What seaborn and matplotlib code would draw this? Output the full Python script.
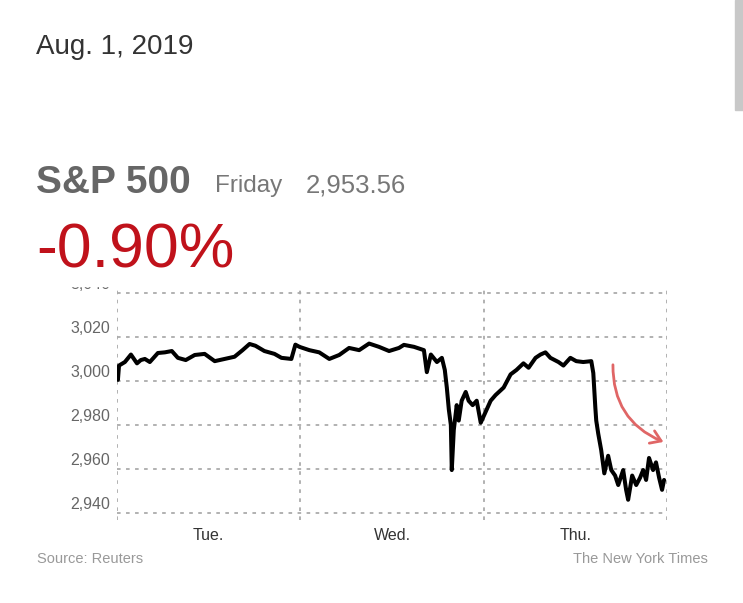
import matplotlib
matplotlib.use("Agg")
import matplotlib.pyplot as plt
import matplotlib.patches as mpatches
from matplotlib.transforms import ScaledTranslation
import seaborn as sns
import pandas as pd

# ── data: S&P 500 intraday, Tue–Thu (x in trading days since Tue open) ──
days = [
    0.000, 0.005, 0.011, 0.043, 0.076, 0.109, 0.130, 0.152, 0.179, 0.223,
    0.261, 0.299, 0.332, 0.375, 0.424, 0.478, 0.533, 0.587, 0.641, 0.685,
    0.723, 0.755, 0.804, 0.859, 0.897, 0.951, 0.973, 0.995,
    1.049, 1.103, 1.158, 1.212, 1.266, 1.321, 1.375, 1.429, 1.484, 1.538,
    1.565, 1.620, 1.674, 1.690, 1.712, 1.745, 1.772, 1.788, 1.799, 1.810,
    1.821, 1.826, 1.837, 1.853, 1.864, 1.880, 1.902, 1.918, 1.940, 1.962,
    1.984,
    2.011, 2.038, 2.065, 2.109, 2.147, 2.179, 2.217, 2.245, 2.283, 2.310,
    2.337, 2.364, 2.408, 2.435, 2.473, 2.505, 2.543, 2.587, 2.598, 2.609,
    2.614, 2.625, 2.641, 2.658, 2.679, 2.696, 2.717, 2.734, 2.761, 2.777,
    2.788, 2.810, 2.832, 2.853, 2.870, 2.886, 2.902, 2.924, 2.940, 2.957,
    2.973, 2.984,
]
index_values = [
    3002.0, 3000.5, 3007.0, 3008.6, 3012.0, 3008.0, 3009.5, 3010.0, 3008.6, 3012.7,
    3013.0, 3013.6, 3010.5, 3009.5, 3011.8, 3012.3, 3009.0, 3010.0, 3011.0, 3014.0,
    3016.8, 3016.0, 3013.6, 3012.3, 3010.5, 3010.0, 3016.5, 3015.5,
    3014.0, 3013.0, 3010.0, 3011.8, 3015.0, 3014.0, 3017.0, 3015.5, 3013.6, 3015.0,
    3016.4, 3015.5, 3014.0, 3004.0, 3012.0, 3008.6, 3010.5, 3005.0, 2997.0, 2987.0,
    2980.0, 2959.5, 2977.7, 2989.0, 2982.0, 2991.0, 2995.0, 2991.0, 2989.0, 2991.0,
    2981.0,
    2986.0, 2991.0, 2993.6, 2997.0, 3003.0, 3005.0, 3008.0, 3006.0, 3010.5, 3012.0,
    3013.0, 3010.5, 3008.6, 3007.0, 3010.5, 3009.0, 3008.6, 3009.0, 3003.6, 2988.0,
    2982.0, 2976.0, 2968.6, 2958.0, 2966.0, 2959.5, 2957.0, 2952.7, 2959.5, 2950.5,
    2946.0, 2957.0, 2952.7, 2956.0, 2959.5, 2955.0, 2965.0, 2959.5, 2963.0, 2956.0,
    2950.5, 2955.0,
]
y_ticks = [2940, 2960, 2980, 3000, 3020, 3040]
y_tick_labels = ["2,940", "2,960", "2,980", "3,000", "3,020", "3,040"]
day_bounds = [0, 1, 2, 3]
day_centers = [0.5, 1.5, 2.5]
day_labels = ["Tue.", "Wed.", "Thu."]

W, H = 743, 603

sns.set_theme(style="white")
plt.rcParams["font.family"] = ["Liberation Sans", "DejaVu Sans"]

fig = plt.figure(figsize=(W / 100, H / 100), dpi=100)
fig.patch.set_facecolor("white")

ax_top_px, ax_bot_px = 287, 520
ax = fig.add_axes([117 / W, 1 - ax_bot_px / H, (667 - 117) / W,
                   (ax_bot_px - ax_top_px) / H])

df = pd.DataFrame({"day": days, "value": index_values})
sns.lineplot(data=df, x="day", y="value", ax=ax, color="black",
             linewidth=2.9, zorder=3)

ax.set_xlim(0, 3)
ax.set_ylim(2936.8, 3042.7)
for s in ax.spines.values():
    s.set_visible(False)

for yv in y_ticks:
    ax.axhline(yv, color="#ababab", linewidth=1.3, linestyle=(0, (2, 3)), zorder=1)
for xv in day_bounds:
    ax.axvline(xv, color="#ababab", linewidth=1.3, linestyle=(0, (2, 3)), zorder=1)

ax.set_yticks(y_ticks)
ax.set_yticklabels(y_tick_labels, fontsize=11.5, color="#666666")
ax.set_xticks(day_centers)
ax.set_xticklabels(day_labels, fontsize=11.5, color="#333333")
ax.tick_params(axis="y", length=0, pad=5)
ax.tick_params(axis="x", length=0, pad=6)
ax.set_xlabel("")
ax.set_ylabel("")

# y labels sit just above their gridlines
lift = ScaledTranslation(0, 2.5 / 72, fig.dpi_scale_trans)
for lab in ax.get_yticklabels():
    lab.set_verticalalignment("baseline")
    lab.set_transform(lab.get_transform() + lift)

# the header covers most of the "3,040" label in the original
fig.patches.append(mpatches.Rectangle((55 / W, 1 - 286 / H), 60 / W, 16 / H,
                                      transform=fig.transFigure,
                                      color="white", zorder=5))

# ── header texts ──
fig.text(36 / W, 1 - 54 / H, "Aug. 1, 2019", fontsize=20, color="#333333",
         va="baseline")
fig.text(36 / W, 1 - 193 / H, "S&P 500", fontsize=28, fontweight="bold",
         color="#666666", va="baseline")
fig.text(215 / W, 1 - 192 / H, "Friday", fontsize=17.5, color="#777777",
         va="baseline")
fig.text(306 / W, 1 - 192 / H, "2,953.56", fontsize=18.5, color="#777777",
         va="baseline")
fig.text(36 / W, 1 - 268 / H, "-0.90%", fontsize=45, color="#c0121b",
         va="baseline", zorder=6)

# ── footer ──
fig.text(37 / W, 1 - 563 / H, "Source: Reuters", fontsize=10.5,
         color="#999999", va="baseline")
fig.text(708 / W, 1 - 563 / H, "The New York Times", fontsize=10.5,
         color="#999999", va="baseline", ha="right")

# hand-drawn red arrow
ax.annotate("", xy=(666, H - 443), xycoords="figure pixels",
            xytext=(613, H - 362), textcoords="figure pixels",
            arrowprops=dict(arrowstyle="->,head_length=0.6,head_width=0.4",
                            color="#e06666", lw=2,
                            connectionstyle="arc3,rad=0.35"))

# scrollbar at the right edge of the screenshot
fig.patches.append(mpatches.Rectangle((735 / W, 1 - 110 / H), 8 / W, 110 / H,
                                      transform=fig.transFigure,
                                      color="#c8c8c8", zorder=0))

fig.savefig("out.png", dpi=100)
